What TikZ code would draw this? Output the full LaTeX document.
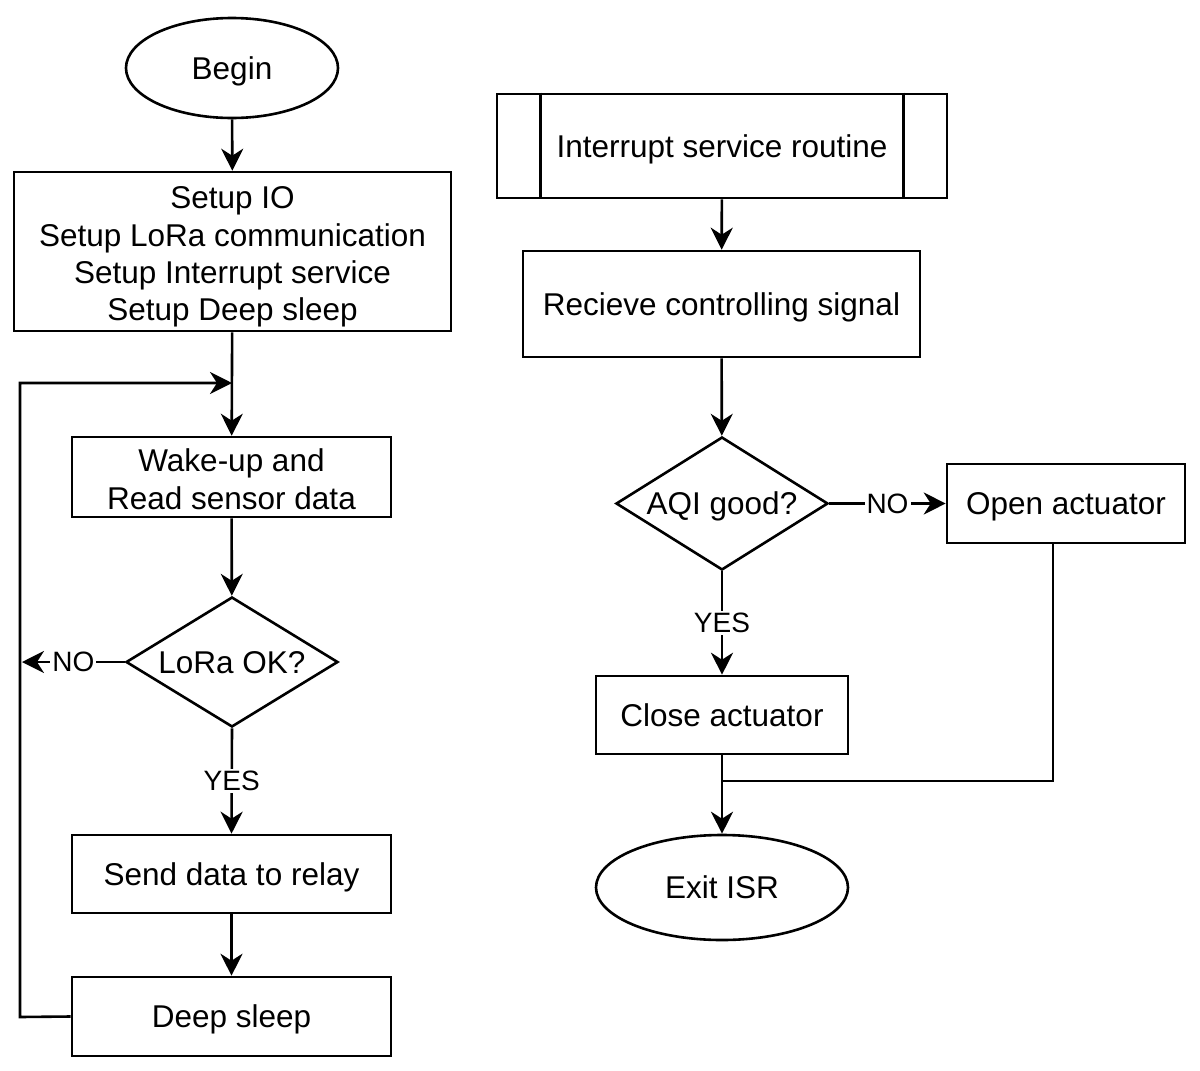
\documentclass[tikz,border=0pt]{standalone}
\usepackage{fontspec}
\setmainfont{Liberation Sans}
\usetikzlibrary{shapes.geometric,arrows.meta}
\begin{document}
\begin{tikzpicture}[x=1pt,y=-1pt,
  every node/.style={font=\fontsize{31.5}{37.3}\selectfont},
  base/.style={draw, line width=2.6pt, inner sep=0pt, align=center},
  one/.style={text depth=0pt},
  box/.style={base, rectangle},
  term/.style={base, ellipse, one},
  dec/.style={base, diamond, aspect=1.63, one},
  conn/.style={line width=2.6pt},
  arr/.style={conn, -{Stealth[length=22pt,width=22pt,inset=7pt]}},
  lbl/.style={fill=white, inner sep=2pt, font=\fontsize{28}{30}\selectfont}]
\useasboundingbox[fill=white] (0,0) rectangle (1200,1071);
% left column
\node[term, minimum width=212, minimum height=100] (begin) at (232,68) {Begin};
\node[box, minimum width=437, minimum height=159, text height=145pt] (setup) at (232.5,251.5)
  {Setup IO\\Setup LoRa communication\\Setup Interrupt service\\Setup Deep sleep};
\node[box, minimum width=319, minimum height=80, text height=64.3pt] (wake) at (231.5,477) {Wake-up and\\Read sensor data};
\node[dec, minimum width=212, minimum height=130] (lora) at (232,662) {LoRa OK?};
\node[box, one, minimum width=319, minimum height=78] (send) at (231.5,874) {Send data to relay};
\node[box, one, minimum width=319, minimum height=79] (deep) at (231.5,1016.5) {Deep sleep};
\coordinate (j1) at (232,383);
\coordinate (loopBL) at (20,1017);
\coordinate (loopTL) at (20,383);
\coordinate (noL) at (22,662);
\draw[arr] (begin) -- (setup);
\draw[arr] (setup) -- (wake);
\draw[arr] (deep.west) -- (loopBL) -- (loopTL) -- (j1);
\draw[arr] (wake) -- (lora);
\draw[arr] (lora.west) -- node[lbl]{NO} (noL);
\draw[arr] (lora.south) -- node[lbl]{YES} (send.north);
\draw[arr] (send) -- (deep);
% right column
\node[box, one, minimum width=450, minimum height=104] (isr) at (722,146) {Interrupt service routine};
\draw[conn] ([xshift=45pt]isr.north west) -- ([xshift=45pt]isr.south west);
\draw[conn] ([xshift=-45pt]isr.north east) -- ([xshift=-45pt]isr.south east);
\node[box, one, minimum width=397, minimum height=106] (recv) at (721.5,304) {Recieve controlling signal};
\node[dec, minimum width=212, minimum height=133] (aqi) at (722,503.5) {AQI good?};
\node[box, one, minimum width=238, minimum height=79] (open) at (1066,503.5) {Open actuator};
\node[box, one, minimum width=252, minimum height=78] (close) at (722,715) {Close actuator};
\node[term, minimum width=252, minimum height=105] (exit) at (722,887.5) {Exit ISR};
\coordinate (j2) at (722,781);
\coordinate (openB) at (1053,543);
\draw[arr] (isr) -- (recv);
\draw[arr] (recv) -- (aqi);
\draw[arr] (aqi.east) -- node[lbl]{NO} (open.west);
\draw[arr] (aqi.south) -- node[lbl]{YES} (close.north);
\draw[arr] (close) -- (exit);
\draw[conn] (openB) |- (j2);
\end{tikzpicture}
\end{document}
